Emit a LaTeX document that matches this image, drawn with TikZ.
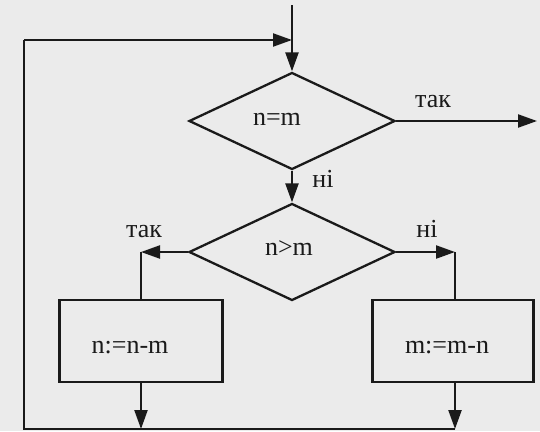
\documentclass[tikz,border=0pt]{standalone}
\usepackage{fontspec}
\setmainfont{Liberation Serif}
\usetikzlibrary{arrows.meta,shapes.geometric}
\definecolor{ink}{HTML}{1A1A1A}
\definecolor{paper}{HTML}{EBEBEB}
\tikzset{
  ln/.style={draw=ink,line width=2.3pt},
  arr/.style={ln,-{Triangle[length=19pt,width=13pt]}},
  dia/.style={diamond,ln,minimum width=206pt,minimum height=97pt,inner sep=0pt},
  boxn/.style={rectangle,ln,inner sep=0pt},
  txt/.style={font=\fontsize{26}{31}\selectfont,text=ink,inner sep=0pt},
}
\begin{document}
\begin{tikzpicture}[x=1pt,y=-1pt]
\fill[paper] (0,0) rectangle (540,431);
\useasboundingbox (0,0) rectangle (540,431);
% decisions
\node[dia] (d1) at (292,121) {};
\node[txt,anchor=base] (t1) at (277,125) {n=m};
\node[dia] (d2) at (292,252) {};
\node[txt,anchor=base] (t2) at (289,255) {n>m};
% processes
\node[boxn,minimum width=163pt,minimum height=82pt] (b1) at (141,341) {};
\node[txt,anchor=base] (t3) at (130,353) {n:=n-m};
\node[boxn,minimum width=161pt,minimum height=82pt] (b2) at (453,341) {};
\node[txt,anchor=base] (t4) at (447,353) {m:=m-n};
% labels
\node[txt,anchor=base] (l1) at (433,107) {так};
\node[txt,anchor=base] (l2) at (323,187) {ні};
\node[txt,anchor=base] (l3) at (144,237) {так};
\node[txt,anchor=base] (l4) at (427,237) {ні};
% free ends
\coordinate (in) at (292,5);
\coordinate (out) at (537,121);
\coordinate (tl) at (24,40);
\coordinate (bl) at (24,429);
\coordinate (lt) at (141,252);
\coordinate (rt) at (455,252);
% connectors
\draw[arr] (in) -- (d1.north);
\draw[arr] (d1.east) -- (out);
\draw[arr] (d1.south) -- (d2.north);
\draw[arr] (d2.west) -- (lt);
\draw[ln] (lt) -- (lt |- b1.north);
\draw[arr] (d2.east) -- (rt);
\draw[ln] (rt) -- (rt |- b2.north);
\draw[arr] (b1.south) -- (b1.south |- bl);
\draw[arr] (rt |- b2.south) -- (rt |- bl);
\draw[ln,line join=miter] (rt |- bl) -- (bl) -- (tl);
\draw[arr] (tl) -- (d1.north |- tl);
\end{tikzpicture}
\end{document}
